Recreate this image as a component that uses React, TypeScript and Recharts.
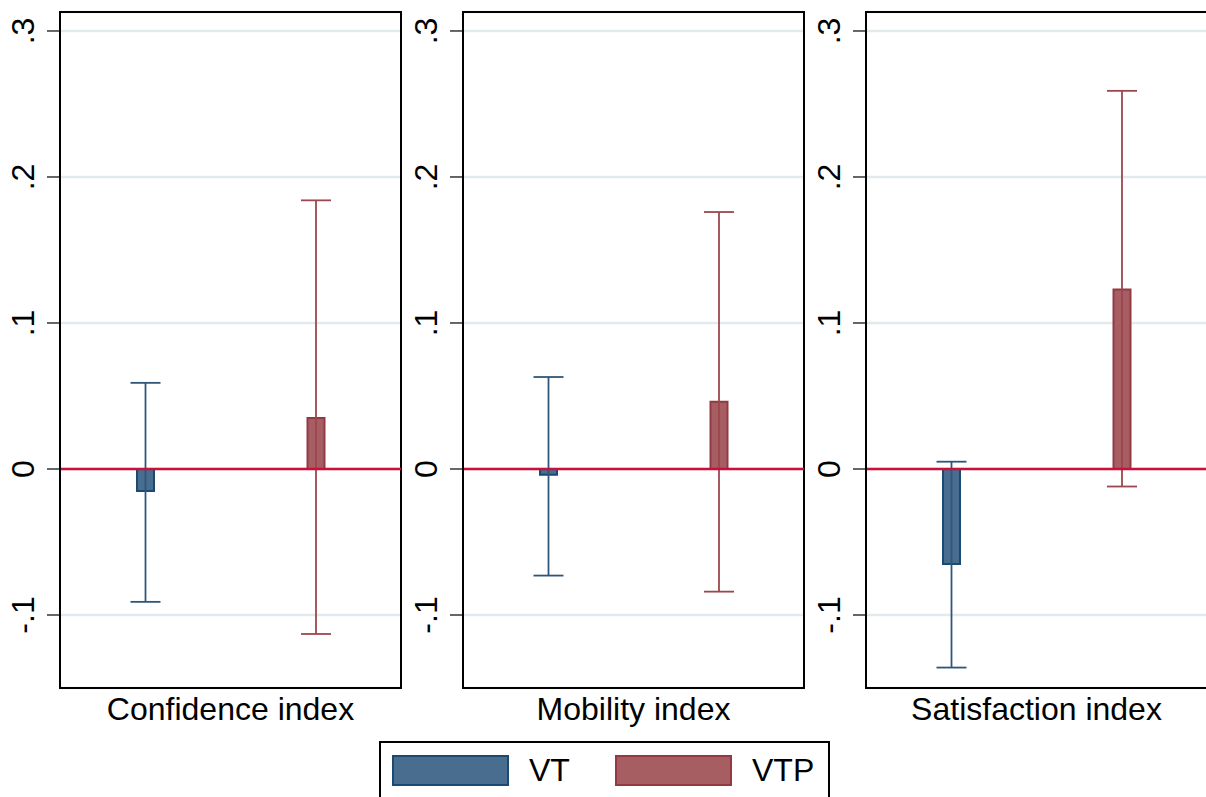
import { BarChart, Bar, XAxis, YAxis, CartesianGrid, ErrorBar, ReferenceLine, ReferenceArea } from "recharts";

const categories = ["Confidence index", "Mobility index", "Satisfaction index"];
const vtEffect = [-0.015, -0.004, -0.065];
const vtLow = [-0.091, -0.073, -0.136];
const vtHigh = [0.059, 0.063, 0.005];
const vtpEffect = [0.035, 0.046, 0.123];
const vtpLow = [-0.113, -0.084, -0.012];
const vtpHigh = [0.184, 0.176, 0.259];
const yTicks = [-0.1, 0, 0.1, 0.2, 0.3];
const yDomain: [number, number] = [-0.15, 0.313];

const FONT = "'Liberation Sans', Arial, Helvetica, sans-serif";
const VT_FILL = "#486d8f";
const VT_EDGE = "#1a4a72";
const VT_ERR = "#2f5679";
const VTP_FILL = "#a65e62";
const VTP_EDGE = "#923a42";
const VTP_ERR = "#9c474e";

const fmt = (v: number) => (v === 0 ? "0" : v.toFixed(1).replace("0.", "."));

function RotatedTick({ x, y, payload }: any) {
  const bx = x - 11;
  return (
    <text x={bx} y={y} transform={`rotate(-90, ${bx}, ${y})`} textAnchor="middle" fontSize={32} fontFamily={FONT} fill="#000">
      {fmt(payload.value)}
    </text>
  );
}

function Panel({ i }: { i: number }) {
  const rows = [
    { name: "VT", vt: vtEffect[i], vtErr: [vtEffect[i] - vtLow[i], vtHigh[i] - vtEffect[i]] },
    { name: "VTP", vtp: vtpEffect[i], vtpErr: [vtpEffect[i] - vtpLow[i], vtpHigh[i] - vtpEffect[i]] },
  ];
  return (
    <BarChart width={403} height={730} data={rows} margin={{ top: 12, right: 2, bottom: 0, left: 0 }} barSize={17}>
      <CartesianGrid vertical={false} stroke="#e2eaee" strokeWidth={2.5} />
      <XAxis
        dataKey="name"
        tick={false}
        tickLine={false}
        height={42}
        axisLine={{ stroke: "#000", strokeWidth: 2 }}
        label={{ value: categories[i], position: "center", fontSize: 32, fontFamily: FONT, fill: "#000" }}
      />
      <YAxis
        domain={yDomain}
        ticks={yTicks}
        width={60}
        tickSize={13}
        tick={<RotatedTick />}
        tickLine={{ stroke: "#000", strokeWidth: 1.2 }}
        axisLine={{ stroke: "#000", strokeWidth: 2 }}
        interval={0}
      />
      <ReferenceArea y1={yDomain[0]} y2={yDomain[1]} fill="none" stroke="#000" strokeWidth={2} ifOverflow="visible" />
      <Bar dataKey="vt" stackId="s" fill={VT_FILL} stroke={VT_EDGE} strokeWidth={2} isAnimationActive={false}>
        <ErrorBar dataKey="vtErr" width={15} stroke={VT_ERR} strokeWidth={1.8} />
      </Bar>
      <Bar dataKey="vtp" stackId="s" fill={VTP_FILL} stroke={VTP_EDGE} strokeWidth={2} isAnimationActive={false}>
        <ErrorBar dataKey="vtpErr" width={15} stroke={VTP_ERR} strokeWidth={1.8} />
      </Bar>
      <ReferenceLine y={0} stroke="#c8103c" strokeWidth={2.5} />
    </BarChart>
  );
}

const swatch = (left: number, fill: string, edge: string) => ({
  position: "absolute" as const,
  left,
  top: 755,
  width: 117,
  height: 31,
  boxSizing: "border-box" as const,
  background: fill,
  border: `2px solid ${edge}`,
});

const label = (left: number) => ({
  position: "absolute" as const,
  left,
  top: 752,
  fontSize: 32,
  lineHeight: "36px",
  fontFamily: FONT,
  color: "#000",
});

export default function App() {
  return (
    <div style={{ position: "absolute", left: 0, top: 0, width: 1206, height: 797, overflow: "hidden", background: "#fff", fontFamily: FONT }}>
      {categories.map((c, i) => (
        <div key={c} style={{ position: "absolute", left: i * 403, top: 0 }}>
          <Panel i={i} />
        </div>
      ))}
      <div style={{ position: "absolute", left: 379, top: 741, width: 451, height: 70, boxSizing: "border-box", border: "2px solid #000" }} />
      <div style={swatch(392, VT_FILL, VT_EDGE)} />
      <div style={label(529)}>VT</div>
      <div style={swatch(615, VTP_FILL, VTP_EDGE)} />
      <div style={label(752)}>VTP</div>
    </div>
  );
}
